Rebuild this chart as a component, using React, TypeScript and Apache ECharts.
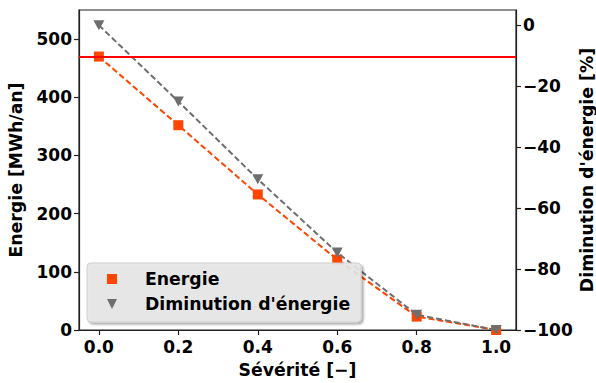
import React, { useEffect, useRef } from "react";
import * as echarts from "echarts";

const severite = [0.0, 0.2, 0.4, 0.6, 0.8, 1.0];
const energie = [470, 352, 233, 121, 23, 0];
const diminution = [0, -25, -50.5, -74.6, -95, -100];
const reference = 470;
const xTicks = [0, 0.2, 0.4, 0.6, 0.8, 1.0];
const yLeftTicks = [0, 100, 200, 300, 400, 500];
const yRightTicks = [-100, -80, -60, -40, -20, 0];

const FONT = "DejaVu Sans";
const ORANGE = "#ff4500";
const GRAY = "#6e6e6e";

export default function App() {
  const ref = useRef<HTMLDivElement>(null);
  useEffect(() => {
    if (!ref.current) return;
    const chart = echarts.init(ref.current, undefined, { renderer: "svg" });
    const tickLabel = { fontFamily: FONT, fontWeight: "bold", fontSize: 17, color: "#000" };
    const nameStyle = { fontFamily: FONT, fontWeight: "bold", fontSize: 17.3, color: "#000" };
    const axisLine = { show: true, onZero: false, lineStyle: { color: "#222", width: 1.2 } };
    const axisTick = { show: true, length: 5, lineStyle: { color: "#222", width: 1.2 } };
    chart.setOption({
      animation: false,
      backgroundColor: "#fff",
      grid: {
        left: 79,
        right: 80,
        top: 10,
        bottom: 53,
        show: true,
        borderColor: "#222",
        borderWidth: 1.2,
        containLabel: false,
        outerBoundsMode: "none",
      },
      legend: {
        orient: "vertical",
        left: 87,
        top: 263,
        padding: [6, 11, 8, 20],
        itemGap: 5,
        itemWidth: 10,
        itemHeight: 10,
        backgroundColor: "rgba(232,232,232,0.9)",
        borderColor: "#cfcfcf",
        borderWidth: 1,
        borderRadius: 4,
        shadowColor: "rgba(0,0,0,0.35)",
        shadowBlur: 2,
        shadowOffsetX: 2,
        shadowOffsetY: 2,
        textStyle: { ...nameStyle, lineHeight: 20, padding: [0, 0, 0, 23] },
        data: [
          { name: "Energie", icon: "rect", itemStyle: { color: ORANGE } },
          { name: "Diminution d'énergie", icon: "path://M0,0 L10,0 L5,10 Z", itemStyle: { color: GRAY } },
        ],
        z: 10,
      },
      xAxis: {
        type: "value",
        min: -0.05,
        max: 1.05,
        name: "Sévérité [−]",
        nameLocation: "middle",
        nameGap: 31,
        nameMoveOverlap: false,
        nameTextStyle: nameStyle,
        axisLine,
        axisTick: { ...axisTick, customValues: xTicks },
        axisLabel: {
          ...tickLabel,
          margin: 8,
          customValues: xTicks,
          formatter: (v: number) => v.toFixed(1),
        },
        splitLine: { show: false },
      },
      yAxis: [
        {
          type: "value",
          min: 0,
          max: 550,
          interval: 100,
          name: "Energie [MWh/an]",
          nameLocation: "middle",
          nameGap: 55,
          nameMoveOverlap: false,
          nameTextStyle: nameStyle,
          axisLine,
          axisTick: { ...axisTick, customValues: yLeftTicks },
          axisLabel: { ...tickLabel, margin: 7, customValues: yLeftTicks },
          splitLine: { show: false },
        },
        {
          type: "value",
          min: -100,
          max: 5,
          interval: 20,
          position: "right",
          name: "Diminution d'énergie [%]",
          nameLocation: "middle",
          nameGap: 62,
          nameMoveOverlap: false,
          nameRotate: 90,
          nameTextStyle: nameStyle,
          axisLine,
          axisTick: { ...axisTick, customValues: yRightTicks },
          axisLabel: {
            ...tickLabel,
            margin: 7,
            customValues: yRightTicks,
            formatter: (v: number) => (v < 0 ? "−" + Math.abs(v) : String(v)),
          },
          splitLine: { show: false },
        },
      ],
      series: [
        {
          name: "Energie",
          type: "line",
          yAxisIndex: 0,
          data: severite.map((x, i) => [x, energie[i]]),
          symbol: "rect",
          symbolSize: 10,
          showSymbol: true,
          itemStyle: { color: ORANGE },
          lineStyle: { color: ORANGE, width: 2, type: [6, 3] },
          markLine: {
            silent: true,
            symbol: "none",
            label: { show: false },
            lineStyle: { color: "#ff0000", width: 2, type: "solid" },
            data: [{ yAxis: reference }],
          },
          z: 2,
        },
        {
          name: "Diminution d'énergie",
          type: "line",
          yAxisIndex: 1,
          data: severite.map((x, i) => [x, diminution[i]]),
          symbol: "path://M0,0 L10,0 L5,10 Z",
          symbolSize: [11, 10],
          showSymbol: true,
          itemStyle: { color: GRAY },
          lineStyle: { color: GRAY, width: 2, type: [6, 3] },
          z: 3,
        },
      ],
    });
    return () => chart.dispose();
  }, []);
  return <div ref={ref} style={{ width: 596, height: 383, position: "absolute", left: 0, top: 0 }} />;
}
